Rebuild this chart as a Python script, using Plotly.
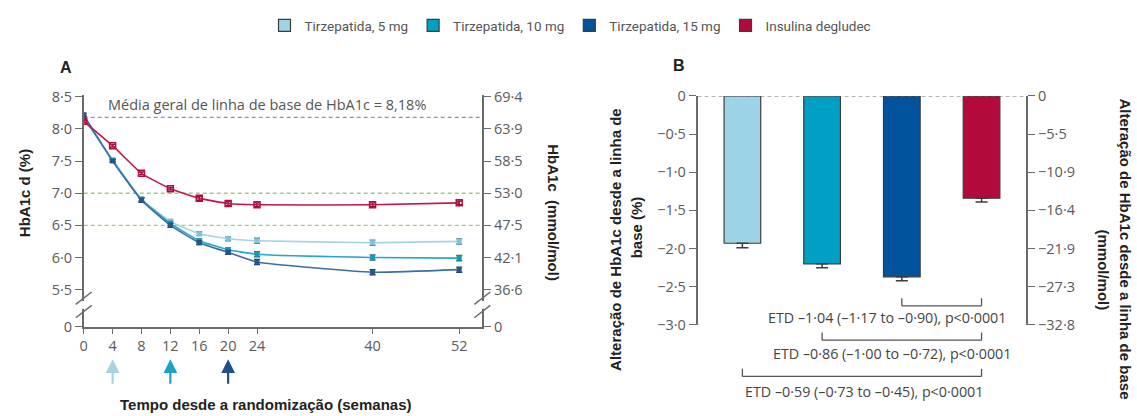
import plotly.graph_objects as go

W, H = 1137, 416

# ---------------- data ----------------
weeks = [0, 4, 8, 12, 16, 20, 24, 40, 52]
tzp5 = [8.17, 7.52, 6.91, 6.56, 6.37, 6.29, 6.26, 6.23, 6.25]
tzp10 = [8.18, 7.51, 6.90, 6.53, 6.26, 6.12, 6.05, 6.00, 5.99]
tzp15 = [8.22, 7.50, 6.89, 6.50, 6.23, 6.08, 5.93, 5.77, 5.81]
degludec = [8.12, 7.74, 7.31, 7.07, 6.92, 6.84, 6.82, 6.82, 6.85]
se_tzp = [0.02, 0.02, 0.03, 0.03, 0.03, 0.03, 0.04, 0.04, 0.04]
se_deg = [0.02, 0.02, 0.02, 0.02, 0.03, 0.03, 0.03, 0.03, 0.03]

baseline_mean = 8.18
target_lines = [7.0, 6.5]
arrow_weeks = [4, 12, 20]

ytick_pct = [4.92, 5.5, 6.0, 6.5, 7.0, 7.5, 8.0, 8.5]
ytick_pct_text = ["0", "5·5", "6·0", "6·5", "7·0", "7·5", "8·0", "8·5"]
ytick_mmol_text = ["0", "36·6", "42·1", "47·5", "53·0", "58·5", "63·9", "69·4"]

groups = ["Tirzepatida, 5 mg", "Tirzepatida, 10 mg", "Tirzepatida, 15 mg", "Insulina degludec"]
change = [-1.93, -2.20, -2.37, -1.34]
change_se = [0.06, 0.05, 0.05, 0.05]

ytick_b = [0, -0.5, -1.0, -1.5, -2.0, -2.5, -3.0]
ytick_b_text = ["0", "−0·5", "−1·0", "−1·5", "−2·0", "−2·5", "−3·0"]
ytick_b_mmol_text = ["0", "−5·5", "−10·9", "−16·4", "−21·9", "−27·3", "−32·8"]

etd_pairs = [(2, 3), (1, 3), (0, 3)]
etd_text = ["ETD –1·04 (–1·17 to –0·90), p<0·0001",
            "ETD –0·86 (–1·00 to –0·72), p<0·0001",
            "ETD –0·59 (–0·73 to –0·45), p<0·0001"]

# ---------------- styles ----------------
bar_colors = ["#9dd3e6", "#00a0c4", "#00539c", "#b10a3b"]
line_colors = ["#a5d3e6", "#26a6c9", "#3c6ea6", "#c2164b"]
marker_colors = ["#7fc3dc", "#1698bd", "#27548a", "#b3103f"]
err_colors = ["#3f7f96", "#1c6f88", "#1d3a63", "#8d0d33"]

TICK_FONT = dict(family="Open Sans", size=14.5, color="#5a5a5a")
TITLE_FONT = dict(family="Liberation Sans", size=15, color="#222222")
AXIS_COLOR = "#6b6b6b"

fig = go.Figure()

series = [tzp5, tzp10, tzp15]
for i, s in enumerate(series):
    fig.add_trace(go.Scatter(
        x=weeks, y=s, mode="lines+markers", xaxis="x", yaxis="y",
        line=dict(color=line_colors[i], width=1.6, shape="spline", smoothing=0.4),
        marker=dict(symbol="square", size=5, color=marker_colors[i]),
        error_y=dict(type="data", array=se_tzp, color=err_colors[i], thickness=1.4, width=3),
        showlegend=False, hoverinfo="skip"))
fig.add_trace(go.Scatter(
    x=weeks, y=degludec, mode="lines+markers", xaxis="x", yaxis="y",
    line=dict(color=line_colors[3], width=1.6, shape="spline", smoothing=0.4),
    marker=dict(symbol="square-open", size=6, color=marker_colors[3], line=dict(width=1.5)),
    error_y=dict(type="data", array=se_deg, color=err_colors[3], thickness=1.4, width=3),
    showlegend=False, hoverinfo="skip"))
# carrier for right axis of A
fig.add_trace(go.Scatter(x=weeks, y=tzp5, xaxis="x", yaxis="y2", mode="lines",
                         line=dict(width=0), opacity=0, showlegend=False, hoverinfo="skip"))

# Panel B bars
for i, g in enumerate(groups):
    fig.add_trace(go.Bar(
        x=[g], y=[change[i]], name=g, xaxis="x2", yaxis="y3", width=0.46,
        marker=dict(color=bar_colors[i], line=dict(color="#3c3c3c", width=1.2)),
        error_y=dict(type="data", symmetric=False, array=[0], arrayminus=[change_se[i]],
                     color="#3c3c3c", thickness=1.5, width=6),
        hoverinfo="skip"))
fig.add_trace(go.Scatter(x=groups, y=change, xaxis="x2", yaxis="y4", mode="lines",
                         line=dict(width=0), opacity=0, showlegend=False, hoverinfo="skip"))

# ---------------- layout ----------------
xA = [80 / W, 480 / W]
xB = [696 / W, 1026 / W]
yA_range = [4.92, 8.53]
yA_dom = [1 - 332 / H, 1 - 89 / H]
yB_dom = [1 - 330 / H, 1 - 90 / H]
xA_range = [0, 55.2]
xB_range = [-0.5625, 3.5625]

axis_common = dict(showgrid=False, zeroline=False, showline=True, linecolor=AXIS_COLOR,
                   linewidth=1.5, ticks="outside", tickcolor=AXIS_COLOR, tickwidth=1.3,
                   tickfont=TICK_FONT)

fig.update_layout(
    width=W, height=H, margin=dict(l=0, r=0, t=0, b=0),
    paper_bgcolor="white", plot_bgcolor="white", barmode="overlay",
    xaxis=dict(domain=xA, range=xA_range, anchor="y", tickvals=weeks, ticklen=5, **axis_common),
    yaxis=dict(domain=yA_dom, range=yA_range, anchor="x", tickvals=ytick_pct,
               ticktext=ytick_pct_text, ticklen=7, **axis_common),
    yaxis2=dict(overlaying="y", side="right", anchor="x", range=yA_range, tickvals=ytick_pct,
                ticktext=ytick_mmol_text, ticklen=7, **axis_common),
    xaxis2=dict(domain=xB, range=xB_range, anchor="y3", visible=False, type="category"),
    yaxis3=dict(domain=yB_dom, range=[-3.0, 0], anchor="x2", tickvals=ytick_b,
                ticktext=ytick_b_text, ticklen=7, **axis_common),
    yaxis4=dict(overlaying="y3", side="right", anchor="x2", range=[-3.0, 0], tickvals=ytick_b,
                ticktext=ytick_b_mmol_text, ticklen=7, **axis_common),
    legend=dict(orientation="h", x=0.5, xanchor="center", y=1.0, yanchor="top",
                font=dict(family="Roboto", size=13.5, color="#555555"),
                itemwidth=30, tracegroupgap=0),
)

shapes = []
# reference lines panel A
shapes.append(dict(type="line", xref="x", yref="y", x0=xA_range[0], x1=xA_range[1],
                   y0=baseline_mean, y1=baseline_mean,
                   line=dict(color="#7f9cab", width=1.3, dash="4px,3px"), layer="below"))
for t in target_lines:
    shapes.append(dict(type="line", xref="x", yref="y", x0=xA_range[0], x1=xA_range[1],
                       y0=t, y1=t, line=dict(color="#9fcd7f", width=1.3, dash="4px,3px"),
                       layer="below"))
# zero line panel B
shapes.append(dict(type="line", xref="x2", yref="y3", x0=xB_range[0], x1=xB_range[1],
                   y0=0, y1=0, line=dict(color="#6b6b6b", width=1.2, dash="4px,3px"),
                   layer="above"))

# axis breaks on panel A (both sides)
px_per_unit = (332 - 89) / (yA_range[1] - yA_range[0])
gap_lo = yA_range[0] + (332 - 313) / px_per_unit
gap_hi = yA_range[0] + (332 - 305) / px_per_unit
slash_centers = [yA_range[0] + (332 - 302) / px_per_unit, yA_range[0] + (332 - 316) / px_per_unit]
dx = 8 / W
dy = 6.5 / px_per_unit
for xa in xA:
    shapes.append(dict(type="rect", xref="paper", yref="y", x0=xa - 3 / W, x1=xa + 3 / W,
                       y0=gap_lo, y1=gap_hi, fillcolor="white", line=dict(width=0),
                       layer="above"))
    for c in slash_centers:
        shapes.append(dict(type="line", xref="paper", yref="y", x0=xa - dx, x1=xa + dx,
                           y0=c - dy, y1=c + dy, line=dict(color=AXIS_COLOR, width=1.5),
                           layer="above"))

# ETD brackets
bracket_y_px = [310, 346, 384]
text_y_px = [322, 360, 400]
text_x = [1.82, 1.88, 1.52]
annotations = []
for k, (a, b) in enumerate(etd_pairs):
    yb = 1 - bracket_y_px[k] / H
    yt = 1 - (bracket_y_px[k] - 8) / H
    for (x0, y0, x1, y1) in [(a, yt, a, yb), (a, yb, b, yb), (b, yb, b, yt)]:
        shapes.append(dict(type="line", xref="x2", yref="paper", x0=x0, x1=x1, y0=y0, y1=y1,
                           line=dict(color="#555555", width=1.3)))
    annotations.append(dict(text=etd_text[k], xref="x2", yref="paper", x=text_x[k],
                            y=1 - text_y_px[k] / H, xanchor="center", yanchor="middle",
                            showarrow=False,
                            font=dict(family="Open Sans", size=14.3, color="#444444")))

# arrows under panel A x axis
for w, col in zip(arrow_weeks, [line_colors[0], "#1ba3c6", "#1f4f8c"]):
    annotations.append(dict(text="", x=w, xref="x", y=1 - 366 / H, yref="paper",
                            showarrow=True, ax=0, ay=26, arrowhead=2, arrowsize=1.25,
                            arrowwidth=2.2, arrowcolor=col, standoff=0))

# panel labels and titles
annotations += [
    dict(text="<b>A</b>", x=62 / W, y=1 - 60 / H, xref="paper", yref="paper",
         showarrow=False, xanchor="center", yanchor="middle",
         font=dict(family="Liberation Sans", size=16, color="#222")),
    dict(text="<b>B</b>", x=677 / W, y=1 - 58 / H, xref="paper", yref="paper",
         showarrow=False, xanchor="center", yanchor="middle",
         font=dict(family="Liberation Sans", size=16, color="#222")),
    dict(text="Média geral de linha de base de HbA1c = 8,18%", x=3.1, xref="x",
         y=1 - 99 / H, yref="paper", xanchor="left", yanchor="middle", showarrow=False,
         font=dict(family="Open Sans", size=14.5, color="#555555")),
    dict(text="<b>HbA1c d (%)</b>", x=20 / W, y=1 - 192 / H, xref="paper", yref="paper",
         textangle=-90, showarrow=False, xanchor="center", yanchor="middle", font=TITLE_FONT),
    dict(text="<b>HbA1c  (mmol/mol)</b>", x=552 / W, y=1 - 212 / H, xref="paper", yref="paper",
         textangle=90, showarrow=False, xanchor="center", yanchor="middle", font=TITLE_FONT),
    dict(text="<b>Tempo desde a randomização (semanas)</b>", x=262 / W, y=1 - 413 / H,
         xref="paper", yref="paper", showarrow=False, xanchor="center", yanchor="middle",
         font=TITLE_FONT),
    dict(text="<b>Alteração de HbA1c desde a linha de</b>", x=613 / W, y=1 - 240 / H,
         xref="paper", yref="paper", textangle=-90, showarrow=False, xanchor="center",
         yanchor="middle", font=TITLE_FONT),
    dict(text="<b>base (%)</b>", x=635 / W, y=1 - 228 / H, xref="paper", yref="paper",
         textangle=-90, showarrow=False, xanchor="center", yanchor="middle", font=TITLE_FONT),
    dict(text="<b>Alteração de HbA1c desde a linha de base</b>", x=1125 / W, y=1 - 250 / H,
         xref="paper", yref="paper", textangle=90, showarrow=False, xanchor="center",
         yanchor="middle", font=TITLE_FONT),
    dict(text="<b>(mmol/mol)</b>", x=1103 / W, y=1 - 272 / H, xref="paper", yref="paper",
         textangle=90, showarrow=False, xanchor="center", yanchor="middle", font=TITLE_FONT),
]

fig.update_layout(shapes=shapes, annotations=annotations)
fig.write_html("out.html")
